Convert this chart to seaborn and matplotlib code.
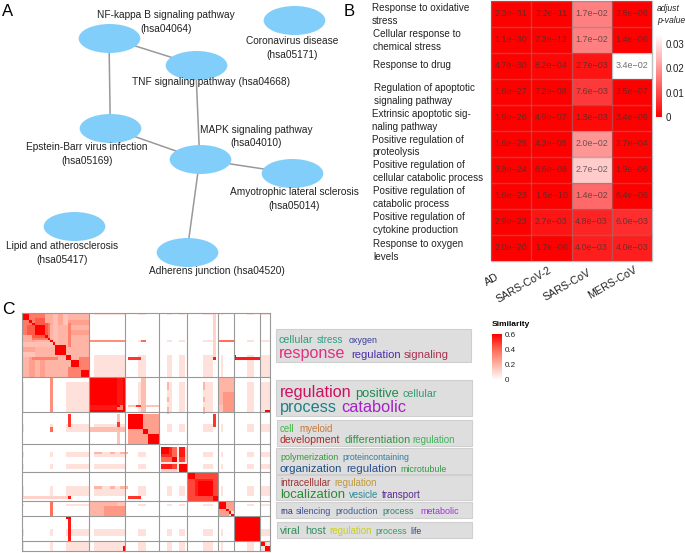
import numpy as np
import pandas as pd
import matplotlib
matplotlib.use("Agg")
import matplotlib.pyplot as plt
from matplotlib.colors import LinearSegmentedColormap
from matplotlib.path import Path
from matplotlib.patches import Rectangle
from matplotlib.transforms import Affine2D
import seaborn as sns

# ── Panel A: network ─────────────────────────────────────────
node_names = ["NF", "Corona", "TNF", "EBV", "MAPK", "ALS", "Lipid", "Adherens"]
node_x = [109, 294.3, 195.7, 110.3, 199.7, 292.3, 74.3, 187]
node_y = [37.7, 20, 65, 128, 159.3, 173.3, 226, 252.3]
edges = [("NF", "TNF"), ("NF", "EBV"), ("TNF", "MAPK"),
         ("EBV", "MAPK"), ("MAPK", "ALS"), ("MAPK", "Adherens")]
node_labels = ["NF-kappa B signaling pathway\n(hsa04064)",
               "Coronavirus disease\n(hsa05171)",
               "TNF signaling pathway (hsa04668)",
               "Epstein-Barr virus infection\n(hsa05169)",
               "MAPK signaling pathway\n(hsa04010)",
               "Amyotrophic lateral sclerosis\n(hsa05014)",
               "Lipid and atherosclerosis\n(hsa05417)",
               "Adherens junction (hsa04520)"]
label_x = [166, 292.5, 211, 87, 256.5, 294, 62, 217]
label_y = [22, 48, 82, 154, 136.5, 199, 253, 271]

# ── Panel B: adjusted p-values ───────────────────────────────
go_terms = ["Response to oxidative\nstress",
            "Cellular response to\nchemical stress",
            "Response to drug",
            "Regulation of apoptotic\nsignaling pathway",
            "Extrinsic apoptotic sig-\nnaling pathway",
            "Positive regulation of\nproteolysis",
            "Positive regulation of\ncellular catabolic process",
            "Positive regulation of\ncatabolic process",
            "Positive regulation of\ncytokine production",
            "Response to oxygen\nlevels"]
term_x = [371.7, 373, 373, 373.7, 372, 372.5, 373, 373, 373, 373]
term_y = [14.5, 40.5, 65, 94.5, 120.5, 146, 171.5, 197.5, 223.5, 250.5]
diseases = ["AD", "SARS-CoV-2", "SARS-CoV", "MERS-CoV"]
disease_right = [501, 553, 593, 639]
disease_top = [272, 265, 267, 265]
ad_p = [2.3e-31, 1.1e-30, 4.7e-30, 1.6e-27, 1.9e-26, 1.6e-25, 3.8e-24, 1.6e-23, 2.9e-23, 2.0e-20]
sars2_p = [2.2e-11, 7.3e-12, 8.2e-04, 7.2e-08, 4.9e-07, 4.3e-05, 6.6e-08, 1.6e-10, 2.7e-03, 1.7e-06]
sars_p = [1.7e-02, 1.7e-02, 2.7e-03, 7.6e-03, 1.3e-03, 2.0e-02, 2.7e-02, 1.4e-02, 4.8e-03, 4.0e-03]
mers_p = [2.8e-06, 1.4e-06, 3.4e-02, 2.5e-07, 3.4e-05, 2.7e-04, 1.9e-06, 6.4e-06, 6.0e-03, 4.0e-03]

n_terms = 96
cluster_edges = [26, 40, 53, 64, 76, 82, 92]
# terms that share a faint similarity with each other across clusters
faint_terms = [0, 11] + list(range(17, 26)) + list(range(28, 40)) + [45, 46, 47, 56, 57, 61, 62] \
    + [70, 71, 72, 73, 77, 87, 88, 89, 92, 93, 94, 95]
# (row from, row to, col from, col to, similarity), mirrored over the diagonal, later ones win
sim_blocks = [
    (0, 26, 0, 26, 0.2), (0, 5, 10, 16, 0.24), (0, 5, 16, 26, 0.16),
    (18, 26, 0, 10, 0.2), (18, 26, 3, 5, 0.26), (18, 26, 7, 9, 0.26),
    (0, 11, 0, 10, 0.36), (2, 9, 5, 10, 0.43), (9, 12, 0, 4, 0.22),
    (12, 14, 0, 13, 0.17), (18, 19, 4, 14, 0.34), (0, 3, 0, 3, 0.6), (3, 4, 3, 4, 0.6),
    (4, 5, 4, 5, 0.6), (5, 9, 5, 9, 0.6), (9, 10, 9, 10, 0.6), (10, 11, 10, 11, 0.6),
    (11, 12, 11, 12, 0.6), (12, 13, 12, 13, 0.6), (13, 17, 13, 17, 0.6), (17, 19, 17, 19, 0.6),
    (19, 22, 19, 22, 0.6), (22, 23, 22, 23, 0.6), (23, 26, 23, 26, 0.6),
    (18, 23, 22, 26, 0.34),
    (11, 12, 26, 40, 0.3), (11, 12, 46, 48, 0.4), (11, 12, 76, 82, 0.38),
    (18, 19, 41, 46, 0.5), (18, 19, 82, 92, 0.55), (17, 19, 82, 83, 0.6),
    (0, 18, 74, 75, 0.12), (18, 19, 74, 75, 0.55), (41, 46, 74, 75, 0.5),
    (37, 38, 41, 53, 0.16), (37, 38, 44, 48, 0.5),
    (26, 40, 46, 48, 0.18), (26, 40, 76, 82, 0.2), (32, 40, 78, 82, 0.28), (37, 40, 76, 78, 0.16),
    (39, 40, 94, 96, 0.6),
    (56, 57, 28, 31, 0.2), (56, 57, 34, 36, 0.2), (56, 57, 38, 41, 0.2),
    (70, 71, 28, 31, 0.2), (70, 71, 34, 36, 0.2), (70, 71, 38, 41, 0.2),
    (26, 40, 26, 40, 0.6), (26, 37, 37, 39, 0.56), (26, 37, 39, 40, 0.6),
    (37, 38, 37, 40, 0.6), (38, 39, 37, 40, 0.34), (39, 40, 37, 40, 0.6),
    (41, 53, 41, 53, 0.0), (41, 50, 41, 53, 0.26), (47, 53, 41, 47, 0.26), (41, 47, 41, 47, 0.6),
    (47, 49, 47, 49, 0.6), (49, 53, 49, 53, 0.6),
    (54, 64, 54, 64, 0.12), (54, 60, 54, 60, 0.4), (54, 58, 54, 58, 0.52), (54, 57, 54, 57, 0.6),
    (58, 60, 58, 60, 0.6), (60, 63, 54, 60, 0.48), (60, 61, 54, 64, 0.06), (61, 64, 61, 64, 0.6),
    (61, 63, 54, 58, 0.55),
    (64, 76, 64, 76, 0.47), (64, 67, 64, 67, 0.6), (67, 74, 67, 74, 0.54), (68, 74, 68, 74, 0.6),
    (74, 76, 74, 76, 0.6),
    (76, 82, 76, 82, 0.1), (76, 80, 76, 82, 0.26), (76, 79, 76, 79, 0.6), (79, 80, 79, 80, 0.6),
    (80, 81, 80, 81, 0.6), (81, 82, 81, 82, 0.6),
    (82, 92, 82, 92, 0.6), (92, 94, 92, 94, 0.6), (94, 96, 94, 96, 0.6),
]

# ── Panel C: word clouds ─────────────────────────────────────
cloud_words = [
    ["cellular", "stress", "oxygen", "response", "regulation", "signaling"],
    ["regulation", "positive", "cellular", "process", "catabolic"],
    ["cell", "myeloid", "development", "differentiation", "regulation"],
    ["polymerization", "proteincontaining", "organization", "regulation", "microtubule"],
    ["intracellular", "regulation", "localization", "vesicle", "transport"],
    ["rna", "silencing", "production", "process", "metabolic"],
    ["viral", "host", "regulation", "process", "life"],
]
cloud_word_x = [[279, 317, 349, 279, 351, 404], [280, 355, 403, 280, 341],
                [280, 299, 280, 345, 412], [280, 342, 280, 346, 400],
                [280, 334, 280, 349, 382], [280, 296, 335, 382, 420],
                [280, 305, 329, 375, 410]]
cloud_word_base = [[343, 343, 343, 358, 358, 358], [397, 397, 397, 412, 412],
                   [432, 432, 443, 443, 443], [460, 460, 472, 472, 472],
                   [486, 486, 498, 498, 498], [514, 514, 514, 514, 514],
                   [534, 534, 534, 534, 534]]
cloud_word_size = [[7.7, 7, 6.4, 11.6, 8.15, 8.2], [11.7, 9.3, 7.65, 11.7, 11.8],
                   [7, 7, 7.6, 7.8, 7], [6.5, 6.35, 8.2, 8.25, 6.4],
                   [7.1, 7, 9.45, 6.9, 7.1], [6.3, 6.5, 6.5, 6.45, 6.5],
                   [8, 7.8, 7, 6.45, 6.2]]
cloud_word_color = [["#2E9B78", "#2F9E82", "#3B3B9A", "#E0307F", "#4A2FA8", "#A8324F"],
                    ["#D0105F", "#1F8A4F", "#2E9B70", "#1F7F85", "#A520C8"],
                    ["#3DB83D", "#C87A3C", "#AE2A2A", "#2F9440", "#3CB35A"],
                    ["#2F9A35", "#2F7FA0", "#1F4F80", "#28508F", "#2F9A40"],
                    ["#A03535", "#C09A3A", "#2A8A35", "#2A8A95", "#5A2A90"],
                    ["#35357F", "#3F4F9A", "#355F90", "#2F7F70", "#A030E0"],
                    ["#2F8F60", "#2F8F60", "#C8D020", "#2F9F60", "#2F3F70"]]
cloud_boxes = [(276, 329, 471, 361.7), (276.3, 380, 471.7, 415.7), (277, 420.3, 472, 445.7),
               (276.3, 448.3, 472, 474.3), (276, 475, 472, 500.3), (276, 502, 472, 517.7),
               (277, 522.3, 472, 538)]

# ── Figure set up ────────────────────────────────────────────
sns.set_theme(style="white")
plt.rcParams["font.family"] = ["Liberation Sans", "DejaVu Sans"]
text_color = "#222222"
W, H = 685, 553
fig = plt.figure(figsize=(W / 100, H / 100), dpi=100)


def px_axes(x0, y0, x1, y1):
    return fig.add_axes([x0 / W, 1 - y1 / H, (x1 - x0) / W, (y1 - y0) / H])


canvas = fig.add_axes([0, 0, 1, 1], zorder=0)
canvas.set_xlim(0, W)
canvas.set_ylim(H, 0)
canvas.axis("off")

for letter, x, y, size in [("A", 2, 12, 12), ("B", 344, 12, 12), ("C", 2, 310, 12.5)]:
    canvas.text(x, y, letter, fontsize=size, va="center", ha="left", color="black")

# ── A ────────────────────────────────────────────────────────
pos = dict(zip(node_names, zip(node_x, node_y)))
for a, b in edges:
    canvas.plot([pos[a][0], pos[b][0]], [pos[a][1], pos[b][1]], color="#999999", lw=1.1, zorder=1)

nodes = pd.DataFrame({"x": node_x, "y": node_y})
oval = Path.unit_circle().transformed(Affine2D().scale(1, 0.47))
sns.scatterplot(data=nodes, x="x", y="y", marker=oval, s=1973, color="#82CEFB",
                linewidth=0, ax=canvas, zorder=2, legend=False)
canvas.set_xlim(0, W)
canvas.set_ylim(H, 0)
canvas.axis("off")

for lab, x, y in zip(node_labels, label_x, label_y):
    canvas.text(x, y, lab, fontsize=7.3, ha="center", va="center", color=text_color,
                linespacing=1.45, zorder=3)

# ── B ────────────────────────────────────────────────────────
pvals = pd.DataFrame({"AD": ad_p, "SARS-CoV-2": sars2_p, "SARS-CoV": sars_p, "MERS-CoV": mers_p})
annot = pvals.map(lambda v: f"{v:.1e}".replace("-", "\u2212"))
p_cmap = LinearSegmentedColormap.from_list("p_red", ["#FF0000", "#FFFFFF"])

ax_b = px_axes(491, 1, 652, 261)
cax_b = px_axes(656, 34, 661.5, 117)
sns.heatmap(pvals, ax=ax_b, cbar_ax=cax_b, cmap=p_cmap, vmin=0, vmax=0.034, annot=annot, fmt="",
            annot_kws={"size": 6.5, "color": "#333333", "alpha": 0.7},
            xticklabels=False, yticklabels=False,
            cbar_kws={"ticks": [0, 0.01, 0.02, 0.03]})
ax_b.set_xlabel("")
ax_b.set_ylabel("")
ax_b.hlines(np.arange(11), 0, 4, color="grey", alpha=0.5, lw=1, clip_on=False)
ax_b.vlines(np.arange(5), 0, 10, color="grey", alpha=0.5, lw=1, clip_on=False)
cax_b.set_yticklabels(["0", "0.01", "0.02", "0.03"])
cax_b.tick_params(length=0, labelsize=7, pad=3, colors=text_color)
cax_b.collections[0].set_edgecolor("face")
for s in cax_b.spines.values():
    s.set_visible(False)

for term, x, y in zip(go_terms, term_x, term_y):
    canvas.text(x, y, term, fontsize=7.1, ha="left", va="center", color=text_color, linespacing=1.3)
for name, x, y in zip(diseases, disease_right, disease_top):
    canvas.text(x, y, name, fontsize=7.7, ha="right", va="top", rotation=30,
                rotation_mode="default", color=text_color)
canvas.text(657, 14.5, "adjust\np-value", fontsize=6.2, style="italic", ha="left", va="center",
            color=text_color, linespacing=1.4)

# ── C matrix ─────────────────────────────────────────────────
sim = np.zeros((n_terms, n_terms))
faint = np.array(faint_terms)
sim[np.ix_(faint, faint)] = 0.08
for r0, r1, c0, c1, v in sim_blocks:
    sim[r0:r1, c0:c1] = v
    sim[c0:c1, r0:r1] = v

sim_cmap = LinearSegmentedColormap.from_list("sim_red", ["#FFFFFF", "#FFB5A5", "#FF6A55", "#FF0000"])
ax_c = px_axes(21.7, 312.7, 270, 551)
cax_c = px_axes(491.7, 334.3, 501.7, 380)
sns.heatmap(sim, ax=ax_c, cbar_ax=cax_c, cmap=sim_cmap, vmin=0, vmax=0.6,
            xticklabels=False, yticklabels=False, cbar_kws={"ticks": [0, 0.2, 0.4, 0.6]})
ax_c.hlines(cluster_edges, 0, n_terms, color="#999999", lw=0.8)
ax_c.vlines(cluster_edges, 0, n_terms, color="#999999", lw=0.8)
for s in ax_c.spines.values():
    s.set_visible(True)
    s.set_color("#999999")
    s.set_linewidth(0.8)
cax_c.collections[0].set_edgecolor("face")
cax_c.set_yticklabels(["0", "0.2", "0.4", "0.6"])
cax_c.tick_params(length=0, labelsize=5.8, pad=2, colors=text_color)
for s in cax_c.spines.values():
    s.set_visible(False)
canvas.text(492, 325, "Similarity", fontsize=6, fontweight="bold", ha="left", va="center", color="black")

# ── C word clouds ────────────────────────────────────────────
for (x0, y0, x1, y1) in cloud_boxes:
    canvas.add_patch(Rectangle((x0, y0), x1 - x0, y1 - y0, facecolor="#DEDEDE",
                               edgecolor="#CFCFCF", lw=0.8))
for words, xs, ys, sizes, cols in zip(cloud_words, cloud_word_x, cloud_word_base,
                                      cloud_word_size, cloud_word_color):
    for w, x, y, size, c in zip(words, xs, ys, sizes, cols):
        canvas.text(x, y, w, fontsize=size, color=c, ha="left", va="baseline")

fig.savefig("out.png", dpi=100)
